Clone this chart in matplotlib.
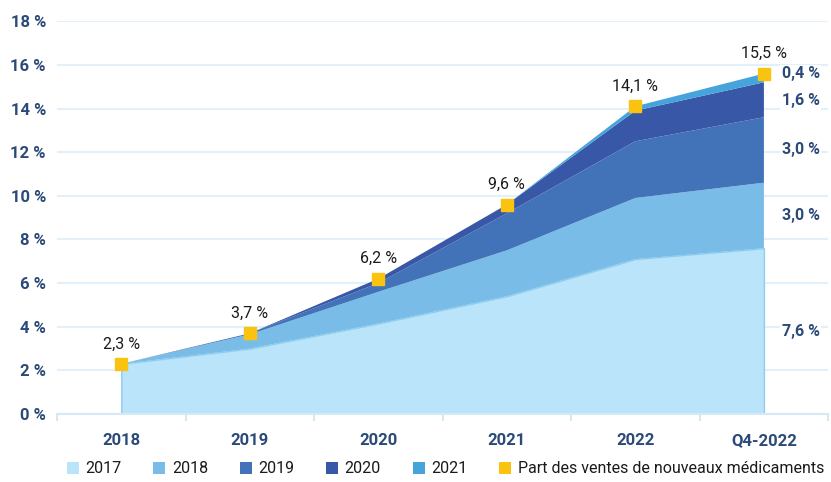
import matplotlib
matplotlib.use('Agg')
import matplotlib.pyplot as plt
from matplotlib.patches import Patch

# x categories
periods = ['2018', '2019', '2020', '2021', '2022', 'Q4-2022']

# share of sales by launch cohort (%)
cohort_2017 = [2.3, 3.0, 4.15, 5.4, 7.1, 7.6]
cohort_2018 = [0.0, 0.65, 1.45, 2.1, 2.8, 3.0]
cohort_2019 = [0.0, 0.05, 0.4, 1.7, 2.6, 3.0]
cohort_2020 = [0.0, 0.0, 0.2, 0.4, 1.4, 1.6]
cohort_2021 = [0.0, 0.0, 0.0, 0.0, 0.2, 0.4]
cohort_names = ['2017', '2018', '2019', '2020', '2021']

# total share of new drugs (labels)
total_share = [2.3, 3.7, 6.2, 9.6, 14.1, 15.6]
total_labels = ['2,3 %', '3,7 %', '6,2 %', '9,6 %', '14,1 %', '15,5 %']

# labels for last column segments
last_labels = ['7,6 %', '3,0 %', '3,0 %', '1,6 %', '0,4 %']

colors = ['#b9e4f9', '#78bce7', '#4273b9', '#3857a7', '#46a4dc']
yellow = '#f9c30f'
navy = '#2b4a78'

plt.rcParams['font.family'] = ['Roboto', 'DejaVu Sans']

fig = plt.figure(figsize=(8.31, 4.82), dpi=100)
ax = fig.add_axes([0.0686, 0.141, 0.928, 0.815])

x = list(range(len(periods)))
layers = [cohort_2017, cohort_2018, cohort_2019, cohort_2020, cohort_2021]
polys = ax.stackplot(x, layers, colors=colors, linewidth=0, zorder=2)
polys[0].set_edgecolor('#8fcdee')
polys[0].set_linewidth(1)

ax.plot(x, total_share, linestyle='none', marker='s', markersize=9,
        color=yellow, zorder=4)
for xi, yi, lab in zip(x, total_share, total_labels):
    ax.annotate(lab, (xi, yi), xytext=(0, 9), textcoords='offset points',
                ha='center', va='bottom', fontsize=11.5, color='#1a1a1a', zorder=5)

# labels next to the last column, centred on each segment
label_y = []
cum = 0
for layer in layers:
    label_y.append(cum + layer[-1] / 2)
    cum += layer[-1]
# the two thin top segments are pushed apart in the original
label_y[-2] = cum - 1.25
label_y[-1] = cum
for yy, lab in zip(label_y, last_labels):
    ax.text(5.14, yy, lab, ha='left', va='center', fontsize=11.5,
            fontweight='bold', color=navy, zorder=5,
            bbox=dict(facecolor='white', edgecolor='none', pad=1))

ax.set_xlim(-0.5, 5.5)
ax.set_ylim(0, 18)
ax.set_yticks(range(0, 19, 2))
ax.set_yticklabels([f'{v} %' for v in range(0, 19, 2)])
ax.set_xticks(x)
ax.set_xticklabels(periods)
ax.set_xticks([i + 0.5 for i in range(-1, 6)], minor=True)

ax.grid(axis='y', color='#e2f0fb', linewidth=1.5, zorder=0)
ax.set_axisbelow(True)
for s in ['top', 'right', 'left']:
    ax.spines[s].set_visible(False)
ax.spines['bottom'].set_color('#d6e8f5')
ax.spines['bottom'].set_linewidth(1.5)

ax.tick_params(axis='y', length=0, pad=8, labelsize=12, labelcolor=navy)
ax.tick_params(axis='x', which='major', length=0, pad=14, labelsize=12, labelcolor=navy)
ax.tick_params(axis='x', which='minor', length=5, color='#d6e8f5', width=1.5)
for lbl in ax.get_xticklabels() + ax.get_yticklabels():
    lbl.set_fontweight('bold')

handles = [Patch(facecolor=c, edgecolor='none') for c in colors]
handles.append(Patch(facecolor=yellow, edgecolor='none'))
names = cohort_names + ['Part des ventes de nouveaux médicaments']
fig.legend(handles, names, loc='lower center', bbox_to_anchor=(0.536, -0.018),
           ncol=6, frameon=False, fontsize=11.5, handlelength=0.75,
           handleheight=0.75, handletextpad=0.4, columnspacing=2.0,
           labelcolor='#1a1a1a')

fig.savefig('out.png', dpi=100)
